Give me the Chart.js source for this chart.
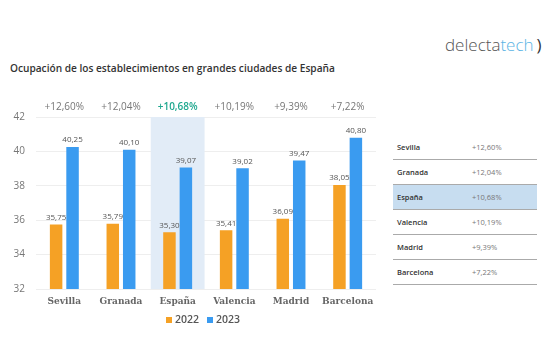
<!DOCTYPE html>
<html><head><meta charset="utf-8">
<script src="https://cdn.jsdelivr.net/npm/chart.js@4/dist/chart.umd.min.js"></script>
<style>
html,body{margin:0;padding:0;background:#fff;width:560px;height:356px;overflow:hidden;font-family:"Open Sans",sans-serif;}
#wrap{position:absolute;left:0;top:0;width:390px;height:356px;}
#title{position:absolute;left:10px;top:61px;font-size:10.15px;font-weight:600;color:#333;white-space:nowrap;}
#logo{position:absolute;left:445px;top:33px;font-size:17px;font-weight:300;color:#555;white-space:nowrap;font-family:"Open Sans",sans-serif;}
#logo .t{color:#5ab4e4;}
#logo .s{color:#333;font-weight:400;margin-left:3px;}
#tbl{position:absolute;left:393px;top:135px;width:144px;border-collapse:collapse;font-size:7.5px;}
#tbl td{height:24px;border-bottom:1px solid #aaa;padding:0;}
#tbl td.c{padding-left:4px;font-weight:600;color:#333;width:75px;}
#tbl td.p{color:#777;}
#tbl tr.h td{background:#c7ddf0;}
#legend{position:absolute;left:166px;top:312px;font-size:10.5px;font-weight:600;color:#555;white-space:nowrap;}
#legend span.b{display:inline-block;width:6px;height:6px;margin-right:3px;vertical-align:0px;}
#legend span.i{margin-right:8px;}
</style></head>
<body>
<div id="title">Ocupación de los establecimientos en grandes ciudades de España</div>
<div id="logo">delecta<span class="t">tech</span><span class="s">)</span></div>
<div id="wrap"><canvas id="c" width="390" height="356"></canvas></div>
<table id="tbl"></table>
<div id="legend"></div>
<script>
const categories = ["Sevilla","Granada","España","Valencia","Madrid","Barcelona"];
const values2022 = [35.75,35.79,35.30,35.41,36.09,38.05];
const values2023 = [40.25,40.10,39.07,39.02,39.47,40.80];
const changes = ["+12,60%","+12,04%","+10,68%","+10,19%","+9,39%","+7,22%"];
const yTicks = [32,34,36,38,40,42];
const seriesNames = ["2022","2023"];
const seriesColors = ["#f5a125","#3a9bf0"];
const highlightIndex = 2;

// table
const tbl = document.getElementById('tbl');
categories.forEach((c,i)=>{
  const tr=document.createElement('tr');
  if(i===highlightIndex) tr.className='h';
  tr.innerHTML='<td class="c">'+c+'</td><td class="p">'+changes[i]+'</td>';
  tbl.appendChild(tr);
});
// legend
document.getElementById('legend').innerHTML = seriesNames.map((n,i)=>
  '<span class="i"><span class="b" style="background:'+seriesColors[i]+'"></span>'+n+'</span>').join('');

const fmt = v => v.toFixed(2).replace('.',',');

const overlay = {
  id:'overlay',
  beforeDatasetsDraw(chart){
    const {ctx, chartArea, scales:{x}} = chart;
    const w = (x.getPixelForValue(1)-x.getPixelForValue(0))*0.95;
    const cx = x.getPixelForValue(highlightIndex);
    ctx.save();
    ctx.fillStyle='#e2ecf7';
    ctx.fillRect(cx-w/2, chartArea.top, w, chartArea.bottom-chartArea.top);
    ctx.restore();
  },
  afterDatasetsDraw(chart){
    const {ctx, chartArea, scales:{x}} = chart;
    ctx.save();
    ctx.textAlign='center';
    ctx.textBaseline='middle';
    categories.forEach((c,i)=>{
      ctx.fillStyle = i===highlightIndex ? '#1fa88f' : '#777';
      ctx.font = (i===highlightIndex ? '600 ' : '') + '10px "Open Sans", sans-serif';
      ctx.fillText(changes[i], x.getPixelForValue(i), chartArea.top-10);
    });
    ctx.font='8px "Open Sans", sans-serif';
    ctx.fillStyle='#555';
    ctx.textBaseline='bottom';
    chart.data.datasets.forEach((ds,di)=>{
      chart.getDatasetMeta(di).data.forEach((bar,i)=>{
        ctx.fillText(fmt(ds.data[i]), bar.x, bar.y-3);
      });
    });
    ctx.restore();
  }
};

new Chart(document.getElementById('c'),{
  type:'bar',
  data:{labels:categories,datasets:seriesNames.map((n,i)=>({
    label:n,data:i===0?values2022:values2023,backgroundColor:seriesColors[i],categoryPercentage:0.58,barPercentage:0.76
  }))},
  options:{
    responsive:false,animation:false,
    layout:{padding:{left:4,right:14,top:117,bottom:45}},
    plugins:{legend:{display:false},tooltip:{enabled:false}},
    scales:{
      x:{grid:{display:false,drawTicks:false},border:{display:false},
        ticks:{padding:7,maxRotation:0,minRotation:0,autoSkip:false,color:'#666',font:{family:'"DejaVu Serif", serif',size:9,weight:'bold'}},
        afterFit(a){a.height=22;}},
      y:{min:32,max:42,afterBuildTicks(a){a.ticks=yTicks.map(v=>({value:v}));},
        grid:{color:'#eeeeee',drawTicks:false},border:{display:false},
        ticks:{color:'#777',padding:11,font:{family:'"Open Sans", sans-serif',size:10}},
        afterFit(a){a.width=32;}}
    }
  },
  plugins:[overlay]
});
</script>
</body></html>
